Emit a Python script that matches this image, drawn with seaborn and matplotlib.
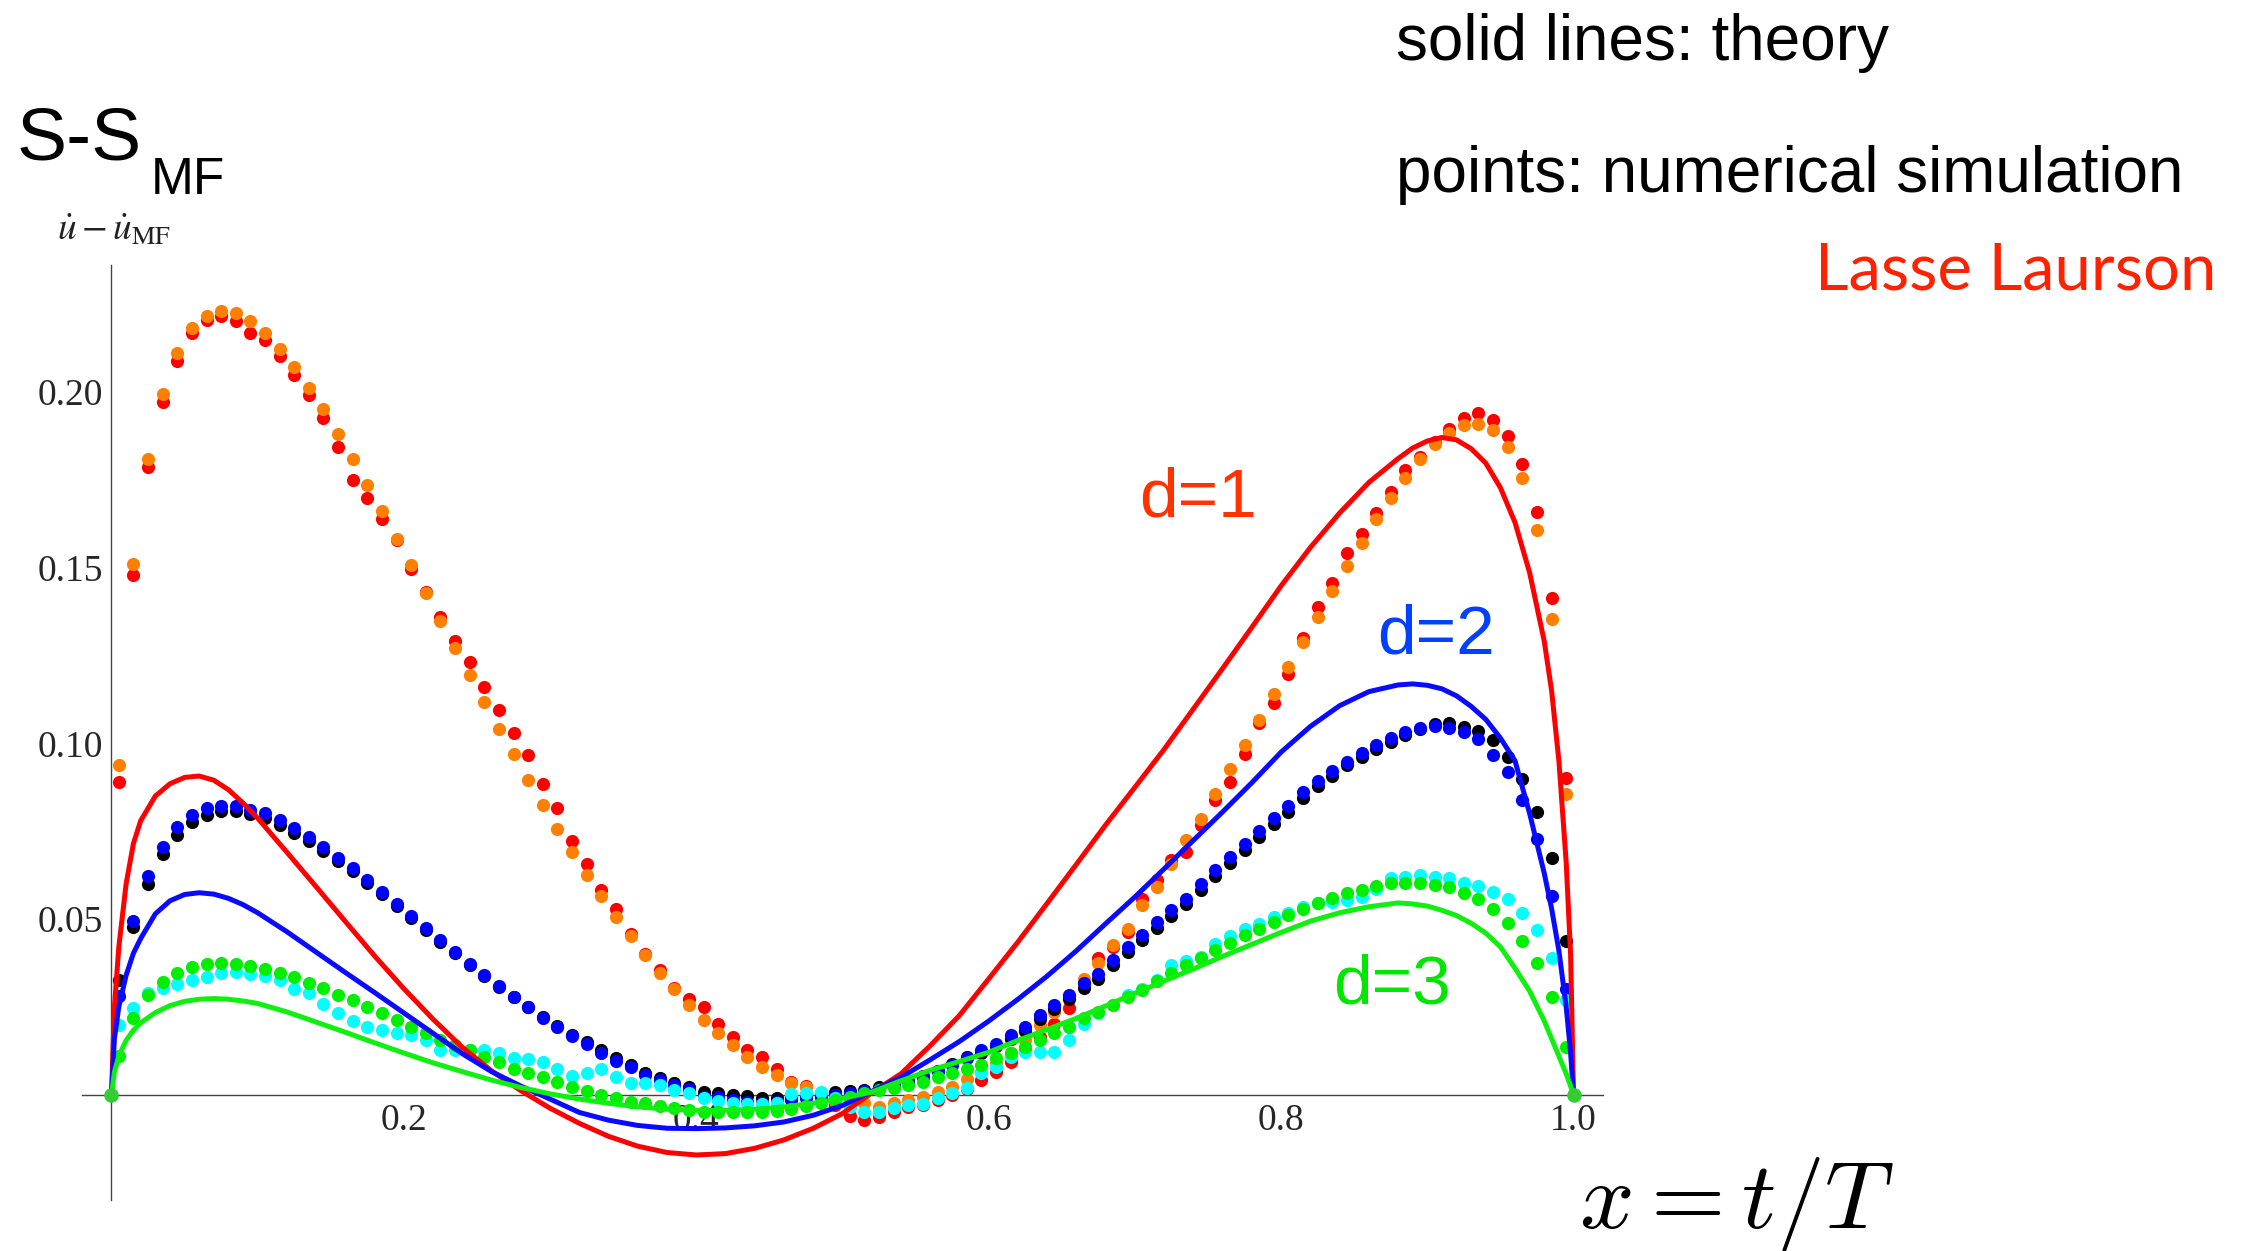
import numpy as np
import pandas as pd
import matplotlib
matplotlib.use("Agg")
import matplotlib.pyplot as plt
from matplotlib.ticker import FixedLocator, MultipleLocator
import seaborn as sns

# シミュレーション点の x 位置 (0.005, 0.015, ..., 0.995)
x_sim = np.round(np.arange(100) * 0.01 + 0.005, 3)

# d=1 シミュレーション (赤, オレンジ)
red_pts = [0.089, 0.1478, 0.1785, 0.1971, 0.2088, 0.2166, 0.2204, 0.2216, 0.2201, 0.2166,
           0.2147, 0.2101, 0.2047, 0.1990, 0.1926, 0.1843, 0.1750, 0.1697, 0.1637, 0.1578,
           0.1497, 0.1431, 0.1360, 0.1292, 0.1230, 0.1160, 0.1094, 0.1028, 0.0966, 0.0884,
           0.0815, 0.0723, 0.0658, 0.0584, 0.0528, 0.0457, 0.0400, 0.0355, 0.0305, 0.0274,
           0.0249, 0.0201, 0.0164, 0.0127, 0.0107, 0.0075, 0.0037, 0.0024, 0.0002, -0.0030,
           -0.0060, -0.0071, -0.0062, -0.0050, -0.0035, -0.0029, -0.0015, 0.0000, 0.0018, 0.0042,
           0.0066, 0.0094, 0.0128, 0.0165, 0.0201, 0.0246, 0.0320, 0.0388, 0.0420, 0.0464,
           0.0557, 0.0610, 0.0668, 0.0691, 0.0767, 0.0838, 0.0890, 0.0971, 0.1057, 0.1115,
           0.1197, 0.1300, 0.1388, 0.1455, 0.1540, 0.1595, 0.1654, 0.1715, 0.1777, 0.1815,
           0.1858, 0.1895, 0.1924, 0.1941, 0.1919, 0.1874, 0.1794, 0.1657, 0.1414, 0.0900]
orange_pts = [0.0938, 0.1510, 0.1810, 0.1995, 0.2111, 0.2180, 0.2216, 0.2229, 0.2223, 0.2201,
              0.2168, 0.2123, 0.2071, 0.2012, 0.1950, 0.1881, 0.1810, 0.1736, 0.1660, 0.1582,
              0.1506, 0.1428, 0.1348, 0.1272, 0.1194, 0.1117, 0.1042, 0.0970, 0.0895, 0.0824,
              0.0756, 0.0691, 0.0625, 0.0565, 0.0507, 0.0452, 0.0398, 0.0346, 0.0300, 0.0255,
              0.0213, 0.0175, 0.0142, 0.0108, 0.0080, 0.0056, 0.0035, 0.0021, 0.0004, -0.0017,
              -0.0020, -0.0024, -0.0034, -0.0024, -0.0015, -0.0005, 0.0009, 0.0023, 0.0044, 0.0066,
              0.0090, 0.0118, 0.0156, 0.0199, 0.0236, 0.0279, 0.0331, 0.0374, 0.0426, 0.0473,
              0.0540, 0.0592, 0.0658, 0.0725, 0.0786, 0.0855, 0.0926, 0.0995, 0.1066, 0.1140,
              0.1216, 0.1289, 0.1360, 0.1434, 0.1504, 0.1571, 0.1638, 0.1699, 0.1756, 0.1810,
              0.1851, 0.1884, 0.1905, 0.1908, 0.1891, 0.1843, 0.1756, 0.1608, 0.1355, 0.0855]

# d=2 シミュレーション (黒, 青)
black_pts = [0.0327, 0.0478, 0.0601, 0.0685, 0.0739, 0.0777, 0.0796, 0.0808, 0.0808, 0.0798,
             0.0787, 0.0768, 0.0745, 0.0722, 0.0695, 0.0666, 0.0636, 0.0603, 0.0571, 0.0537,
             0.0503, 0.0469, 0.0436, 0.0403, 0.0369, 0.0338, 0.0307, 0.0277, 0.0251, 0.0222,
             0.0197, 0.0171, 0.0149, 0.0127, 0.0104, 0.0085, 0.0063, 0.0048, 0.0033, 0.0021,
             0.0009, 0.0004, -0.0001, -0.0004, -0.0008, -0.0008, -0.0006, 0.0000, 0.0005, 0.0009,
             0.0011, 0.0015, 0.0022, 0.0030, 0.0040, 0.0055, 0.0068, 0.0088, 0.0108, 0.0120,
             0.0138, 0.0160, 0.0183, 0.0215, 0.0244, 0.0272, 0.0303, 0.0331, 0.0368, 0.0406,
             0.0440, 0.0476, 0.0510, 0.0542, 0.0584, 0.0622, 0.0660, 0.0697, 0.0733, 0.0770,
             0.0806, 0.0845, 0.0878, 0.0908, 0.0937, 0.0962, 0.0985, 0.1005, 0.1025, 0.1040,
             0.1056, 0.1058, 0.1047, 0.1036, 0.1009, 0.0962, 0.0898, 0.0805, 0.0673, 0.0438]
blue_pts = [0.0280, 0.0495, 0.0623, 0.0706, 0.0763, 0.0796, 0.0815, 0.0821, 0.0821, 0.0810,
            0.0801, 0.0782, 0.0758, 0.0734, 0.0706, 0.0675, 0.0644, 0.0611, 0.0578, 0.0543,
            0.0509, 0.0474, 0.0440, 0.0407, 0.0372, 0.0341, 0.0309, 0.0277, 0.0251, 0.0220,
            0.0194, 0.0167, 0.0144, 0.0120, 0.0097, 0.0078, 0.0056, 0.0042, 0.0028, 0.0016,
            -0.0005, -0.0005, -0.0015, -0.0020, -0.0023, -0.0020, -0.0015, -0.0010, -0.0005, 0.0000,
            0.0005, 0.0010, 0.0018, 0.0027, 0.0038, 0.0052, 0.0068, 0.0085, 0.0106, 0.0127,
            0.0146, 0.0170, 0.0193, 0.0227, 0.0256, 0.0284, 0.0317, 0.0345, 0.0383, 0.0421,
            0.0454, 0.0492, 0.0526, 0.0558, 0.0601, 0.0639, 0.0677, 0.0713, 0.0750, 0.0788,
            0.0822, 0.0861, 0.0894, 0.0920, 0.0948, 0.0972, 0.0995, 0.1015, 0.1033, 0.1043,
            0.1049, 0.1045, 0.1033, 0.1011, 0.0968, 0.0917, 0.0838, 0.0727, 0.0565, 0.0300]

# d=3 シミュレーション (シアン, 緑)
cyan_pts = [0.0199, 0.0246, 0.0290, 0.0305, 0.0315, 0.0326, 0.0336, 0.0347, 0.0349, 0.0343,
            0.0338, 0.0328, 0.0300, 0.0289, 0.0258, 0.0232, 0.0211, 0.0192, 0.0184, 0.0175,
            0.0170, 0.0156, 0.0129, 0.0129, 0.0127, 0.0127, 0.0118, 0.0104, 0.0101, 0.0094,
            0.0075, 0.0053, 0.0061, 0.0075, 0.0051, 0.0033, 0.0033, 0.0028, 0.0015, 0.0005,
            -0.0010, -0.0018, -0.0022, -0.0025, -0.0025, -0.0022, 0.0002, 0.0006, 0.0009, -0.0010,
            -0.0035, -0.0048, -0.0050, -0.0038, -0.0029, -0.0025, -0.0010, 0.0004, 0.0020, 0.0061,
            0.0080, 0.0108, 0.0123, 0.0123, 0.0123, 0.0156, 0.0203, 0.0232, 0.0255, 0.0284,
            0.0301, 0.0327, 0.0369, 0.0380, 0.0393, 0.0430, 0.0452, 0.0472, 0.0487, 0.0505,
            0.0518, 0.0535, 0.0545, 0.0550, 0.0555, 0.0563, 0.0587, 0.0616, 0.0620, 0.0625,
            0.0620, 0.0618, 0.0603, 0.0594, 0.0578, 0.0556, 0.0516, 0.0469, 0.0388, 0.0270]
green_pts = [0.0110, 0.0219, 0.0284, 0.0322, 0.0347, 0.0364, 0.0371, 0.0374, 0.0371, 0.0366,
             0.0357, 0.0347, 0.0334, 0.0317, 0.0303, 0.0284, 0.0270, 0.0251, 0.0232, 0.0213,
             0.0194, 0.0175, 0.0156, 0.0142, 0.0127, 0.0108, 0.0094, 0.0075, 0.0063, 0.0050,
             0.0037, 0.0023, 0.0012, 0.0000, -0.0010, -0.0020, -0.0022, -0.0032, -0.0036, -0.0043,
             -0.0048, -0.0048, -0.0050, -0.0050, -0.0048, -0.0045, -0.0041, -0.0033, -0.0024, -0.0015,
             -0.0005, 0.0005, 0.0014, 0.0020, 0.0027, 0.0037, 0.0052, 0.0061, 0.0073, 0.0085,
             0.0104, 0.0120, 0.0137, 0.0156, 0.0175, 0.0194, 0.0218, 0.0237, 0.0255, 0.0279,
             0.0299, 0.0325, 0.0347, 0.0369, 0.0390, 0.0412, 0.0433, 0.0454, 0.0473, 0.0492,
             0.0511, 0.0530, 0.0545, 0.0559, 0.0573, 0.0582, 0.0594, 0.0602, 0.0602, 0.0602,
             0.0597, 0.0590, 0.0575, 0.0556, 0.0528, 0.0490, 0.0438, 0.0374, 0.0277, 0.0137]
# 端点 (x=0, x=1) の緑の点
end_x = [0.0, 1.0]
end_y = [0.0, 0.0]

# 理論曲線
x_th = [0.0, 0.002, 0.005, 0.01, 0.015, 0.02, 0.03, 0.04, 0.05, 0.06, 0.07, 0.08, 0.09, 0.10,
        0.12, 0.14, 0.16, 0.18, 0.20, 0.22, 0.24, 0.26, 0.28, 0.30, 0.32, 0.34, 0.36, 0.38,
        0.40, 0.42, 0.44, 0.46, 0.48, 0.50, 0.52, 0.54, 0.56, 0.58, 0.60, 0.62, 0.64, 0.66,
        0.68, 0.70, 0.72, 0.74, 0.76, 0.78, 0.80, 0.82, 0.84, 0.86, 0.88, 0.89, 0.90, 0.91,
        0.92, 0.93, 0.94, 0.95, 0.96, 0.97, 0.98, 0.985, 0.99, 0.995, 0.998, 1.0]
red_th = [0.0, 0.025, 0.042, 0.060, 0.0715, 0.078, 0.085, 0.0885, 0.0903, 0.0907, 0.0895, 0.0868, 0.0830, 0.0787,
          0.0690, 0.0592, 0.0493, 0.0395, 0.0302, 0.0215, 0.0135, 0.0068, 0.0012, -0.0038, -0.0081, -0.0118, -0.0146, -0.0164,
          -0.0171, -0.0167, -0.0152, -0.0128, -0.0095, -0.0053, 0.0006, 0.0060, 0.0140, 0.0226, 0.0330, 0.0435, 0.0545, 0.0656,
          0.0768, 0.0875, 0.0983, 0.1098, 0.1213, 0.1330, 0.1448, 0.1557, 0.1655, 0.1742, 0.1810, 0.1840, 0.1860, 0.1870,
          0.1863, 0.1838, 0.1797, 0.1727, 0.1628, 0.1485, 0.1290, 0.1150, 0.0950, 0.0660, 0.0400, 0.0]
blue_th = [0.0, 0.016, 0.025, 0.034, 0.0403, 0.0445, 0.0515, 0.0552, 0.0570, 0.0575, 0.0571, 0.0559, 0.0541, 0.0518,
           0.0464, 0.0406, 0.0348, 0.0291, 0.0233, 0.0175, 0.0117, 0.0066, 0.0025, -0.0012, -0.0050, -0.0072, -0.0087, -0.0095,
           -0.0096, -0.0094, -0.0088, -0.0077, -0.0058, -0.0030, 0.0010, 0.0050, 0.0100, 0.0152, 0.0210, 0.0272, 0.0338, 0.0410,
           0.0487, 0.0563, 0.0643, 0.0724, 0.0805, 0.0888, 0.0975, 0.1048, 0.1107, 0.1147, 0.1166, 0.1169, 0.1165, 0.1155,
           0.1135, 0.1105, 0.1068, 0.1015, 0.0950, 0.0800, 0.0630, 0.0530, 0.0410, 0.0250, 0.0120, 0.0]
green_th = [0.0, 0.0065, 0.011, 0.0155, 0.0184, 0.0205, 0.0234, 0.0254, 0.0266, 0.0272, 0.0274, 0.0272, 0.0267, 0.0260,
            0.0236, 0.0207, 0.0178, 0.0148, 0.0119, 0.0091, 0.0066, 0.0042, 0.0021, 0.0003, -0.0012, -0.0024, -0.0034, -0.0041,
            -0.0044, -0.0044, -0.0041, -0.0034, -0.0024, -0.0010, 0.0008, 0.0040, 0.0070, 0.0095, 0.0121, 0.0155, 0.0186, 0.0218,
            0.0253, 0.0289, 0.0324, 0.0358, 0.0394, 0.0428, 0.0462, 0.0494, 0.0518, 0.0535, 0.0546, 0.0543, 0.0537, 0.0525,
            0.0510, 0.0488, 0.0460, 0.0421, 0.0360, 0.0295, 0.0210, 0.0160, 0.0110, 0.0060, 0.0025, 0.0]

sns.set_style("white")

fig = plt.figure(figsize=(22.41, 12.51), dpi=100)
ax = fig.add_axes([0.0367, 0.0405, 0.6785, 0.7475])

# 点を描く (赤→オレンジ→黒→青→シアン→緑 の順)
sims = [(red_pts, "#ff0000"), (orange_pts, "#ff8000"), (black_pts, "#000000"),
        (blue_pts, "#0000ff"), (cyan_pts, "#00ffff"), (green_pts, "#00ee00")]
for vals, col in sims:
    sns.scatterplot(x=x_sim, y=vals, color=col, s=90, linewidth=0, ax=ax, zorder=3)
sns.scatterplot(x=end_x, y=end_y, color="#33cc33", s=110, linewidth=0, ax=ax, zorder=5)

# 理論曲線
for vals, col in [(red_th, "#ff0000"), (blue_th, "#0a0aff"), (green_th, "#11ee11")]:
    sns.lineplot(x=x_th, y=vals, color=col, linewidth=3.6, ax=ax, zorder=4, estimator=None)

ax.set_xlim(-0.02, 1.02)
ax.set_ylim(-0.030, 0.236)
ax.set_xlabel("")
ax.set_ylabel("")

# Mathematica 風の軸
for s in ["top", "right"]:
    ax.spines[s].set_visible(False)
ax.spines["left"].set_position(("data", 0))
ax.spines["bottom"].set_position(("data", 0))
for s in ["left", "bottom"]:
    ax.spines[s].set_color("#444444")
    ax.spines[s].set_linewidth(1.0)

ax.xaxis.set_major_locator(FixedLocator([0.2, 0.4, 0.6, 0.8, 1.0]))
ax.xaxis.set_minor_locator(MultipleLocator(0.05))
ax.yaxis.set_major_locator(FixedLocator([0.05, 0.10, 0.15, 0.20]))
ax.yaxis.set_minor_locator(MultipleLocator(0.01))
ax.set_xticklabels(["0.2", "0.4", "0.6", "0.8", "1.0"])
ax.set_yticklabels(["0.05", "0.10", "0.15", "0.20"])
ax.tick_params(which="both", direction="in", color="#444444", width=0.9)
ax.tick_params(which="major", length=6, labelsize=27, pad=6)
ax.tick_params(which="minor", length=4)
for lab in ax.get_xticklabels() + ax.get_yticklabels():
    lab.set_family("Liberation Serif")

W, H = 2241.0, 1251.0


def put(x, y, s, **kw):
    fig.text(x / W, 1 - y / H, s, va="baseline", **kw)


# ラベル類
put(1139, 517, "d=1", color="#ff3300", fontsize=50, family="Liberation Sans")
put(1377, 654, "d=2", color="#0040ff", fontsize=50, family="Liberation Sans")
put(1333, 1003, "d=3", color="#00e600", fontsize=50, family="Liberation Sans")

put(1396, 60, "solid lines: theory", color="black", fontsize=46, family="Liberation Sans")
put(1396, 192, "points: numerical simulation", color="black", fontsize=46, family="Liberation Sans")
put(2216, 290, "Lasse Laurson", color="#ff2200", fontsize=47, family="Lato", ha="right")

put(17, 159, "S-S", color="black", fontsize=54, family="Liberation Sans")
put(151, 194, "MF", color="black", fontsize=37, family="Liberation Sans")

plt.rcParams["mathtext.fontset"] = "stix"
put(57, 240, r"$\dot{u}-\dot{u}_{\mathrm{MF}}$", color="#222222", fontsize=27)
fig.text(1579 / W, 1 - 1228 / H, r"$x = t/T$", va="baseline", fontsize=69,
         math_fontfamily="cm", color="black")

plt.savefig("out.png", dpi=100)
